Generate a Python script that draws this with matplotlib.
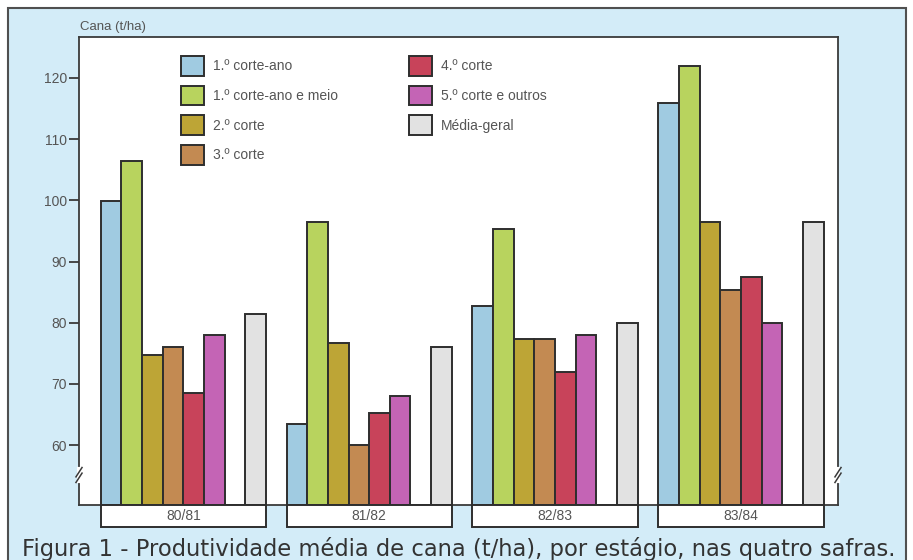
import matplotlib
matplotlib.use("Agg")
import matplotlib.pyplot as plt
import matplotlib.patches as mpatches
import matplotlib.transforms as mtransforms
import numpy as np

plt.rcParams['font.family'] = ['Liberation Sans', 'DejaVu Sans']

safras = ["80/81", "81/82", "82/83", "83/84"]
series_names = ["1.º corte-ano", "1.º corte-ano e meio", "2.º corte", "3.º corte",
                "4.º corte", "5.º corte e outros", "Média-geral"]
corte_ano_1 = [99.9, 63.4, 82.7, 115.9]
corte_ano_meio_1 = [106.4, 96.5, 95.3, 121.9]
corte_2 = [74.7, 76.6, 77.4, 96.5]
corte_3 = [76.0, 60.0, 77.3, 85.4]
corte_4 = [68.5, 65.3, 72.0, 87.4]
corte_5 = [78.0, 68.0, 78.0, 80.0]
media_geral = [81.4, 76.0, 80.0, 96.5]
yticks = [60, 70, 80, 90, 100, 110, 120]

series = [corte_ano_1, corte_ano_meio_1, corte_2, corte_3, corte_4, corte_5, media_geral]
colors = ["#a0cbe1", "#b8d35e", "#bda536", "#c38a52", "#c8435a", "#c464b5", "#e2e2e2"]
slot = [0, 1, 2, 3, 4, 5, 7]
edge = "#2e2e2e"

W, H = 913, 560
fig = plt.figure(figsize=(W / 100, H / 100), dpi=100)
fig.patch.set_facecolor("white")

# outer light-blue frame (background axes)
bg = fig.add_axes([0, 0, 1, 1], zorder=-10)
bg.set_xlim(0, W)
bg.set_ylim(H, 0)
bg.axis("off")
bg.add_patch(mpatches.Rectangle((8, 8), 906 - 8, H + 10, facecolor="#d3ecf8",
                                edgecolor="#505050", linewidth=1.5))

ax = fig.add_axes([79 / W, (H - 505) / H, (838 - 79) / W, (505 - 37) / H], zorder=1)
ax.set_facecolor("white")

group_step = 9
handles = []
for k, (vals, col, s) in enumerate(zip(series, colors, slot)):
    x = np.arange(len(safras)) * group_step + s
    b = ax.bar(x, np.array(vals) - 40, bottom=40, width=1.0, align="edge",
               color=col, edgecolor=edge, linewidth=1.4, zorder=2)
    handles.append(b)

ax.set_xlim(-1.05, 35.7)
ax.set_ylim(50.2, 126.7)
ax.set_yticks(yticks)
ax.set_yticklabels([str(v) for v in yticks])
ax.set_xticks([])
ax.tick_params(axis="y", direction="out", length=7, width=1.3, color="#3a3a3a",
               labelsize=10, labelcolor="#555555", pad=1.5)
for sp in ax.spines.values():
    sp.set_color("#3a3a3a")
    sp.set_linewidth(1.3)

# category boxes under the axis
trans = mtransforms.blended_transform_factory(ax.transData, ax.transAxes)
box_h = 22 / 468
for g, name in enumerate(safras):
    x0 = g * group_step
    r = mpatches.Rectangle((x0, -box_h), 8, box_h, transform=trans, clip_on=False,
                           facecolor="white", edgecolor=edge, linewidth=1.4, zorder=3)
    ax.add_patch(r)
    ax.text(x0 + 4, -box_h / 2, name, transform=trans, ha="center", va="center",
            fontsize=10, color="#555555", zorder=4)

# axis break marks
for xa in (0, 1):
    yb = (505 - 475) / 468
    ax.plot([xa, xa], [yb - 0.012, yb + 0.012], transform=ax.transAxes, color="white",
            linewidth=3, clip_on=False, zorder=5)
    for dy in (-0.006, 0.006):
        ax.plot([xa - 0.004, xa + 0.004], [yb + dy - 0.01, yb + dy + 0.01],
                transform=ax.transAxes, color="#3a3a3a", linewidth=1.1,
                clip_on=False, zorder=6)

leg = ax.legend(handles, series_names, ncol=2, loc="upper left",
                bbox_to_anchor=(181 / W, 1 - 56 / H), bbox_transform=fig.transFigure,
                frameon=False, fontsize=10, handlelength=1.65, handleheight=1.8,
                handletextpad=0.65, labelspacing=0.72, columnspacing=5.1,
                borderpad=0, borderaxespad=0)
for t in leg.get_texts():
    t.set_color("#555555")

fig.text(80 / W, 1 - 27 / H, "Cana (t/ha)", fontsize=9.5, color="#555555",
         ha="left", va="center")
fig.text(459 / W, 1 - 549 / H,
         "Figura 1 - Produtividade média de cana (t/ha), por estágio, nas quatro safras.",
         fontsize=16.3, color="#333333", ha="center", va="center",
         family=["DejaVu Sans"])

fig.savefig("out.png", dpi=100)
